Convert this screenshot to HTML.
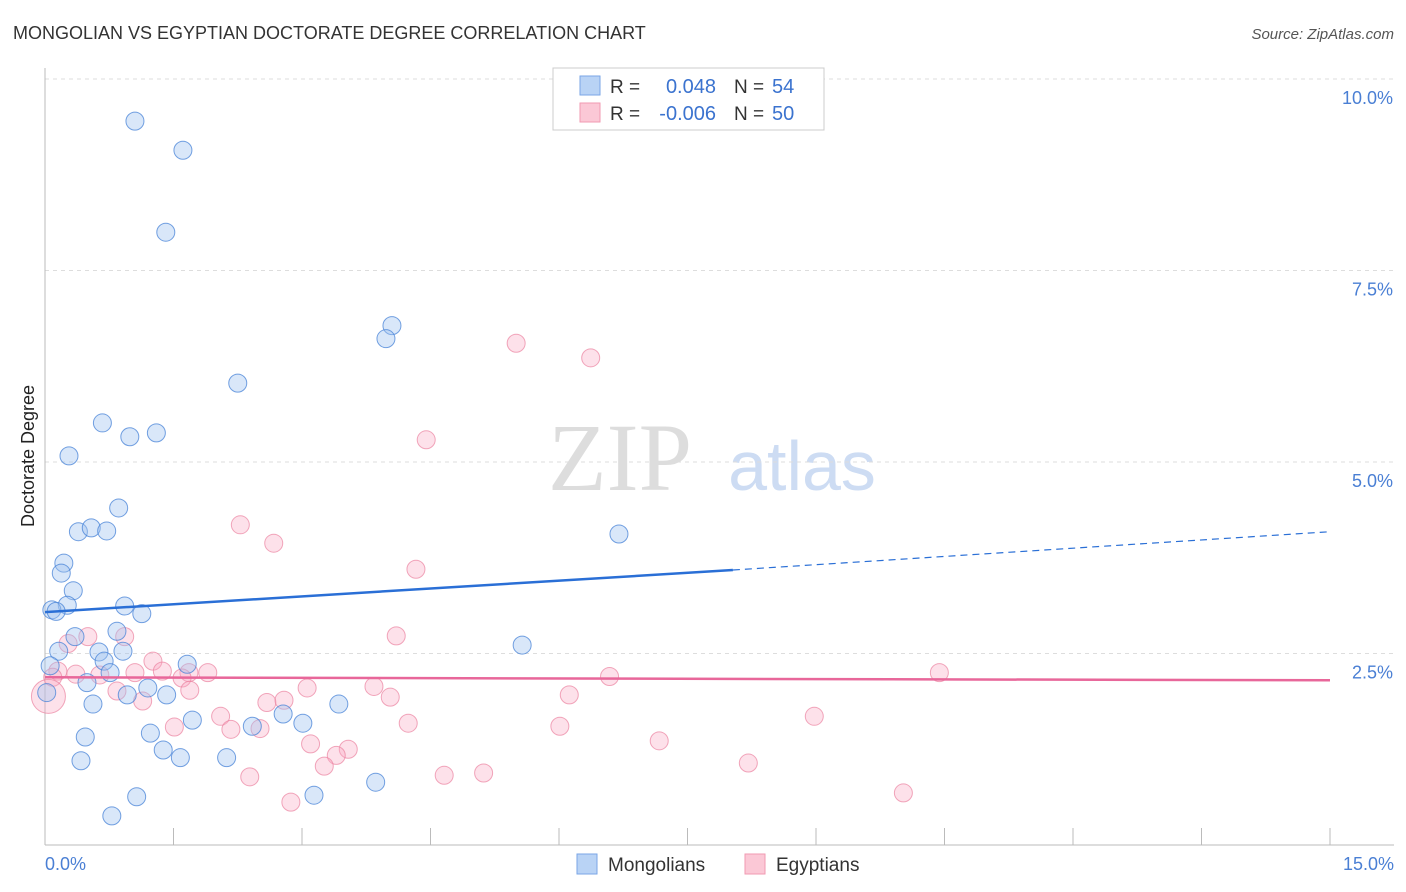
<!DOCTYPE html>
<html><head><meta charset="utf-8"><style>
body{margin:0;background:#fff;font-family:"Liberation Sans",sans-serif;}
svg{display:block}
</style></head><body>
<svg id="chart" width="1406" height="892">
<text x="13" y="39" font-size="18" fill="#333">MONGOLIAN VS EGYPTIAN DOCTORATE DEGREE CORRELATION CHART</text>
<text x="1394" y="39" font-size="15" fill="#555" font-style="italic" text-anchor="end">Source: ZipAtlas.com</text>
<text x="620" y="490" font-size="96" fill="#ddd" font-family="Liberation Serif,serif" text-anchor="middle">ZIP</text>
<text x="802" y="490" font-size="70" fill="#cddcf3" text-anchor="middle">atlas</text>
<g id="grid"></g>
<line x1="45" y1="68" x2="45" y2="845" stroke="#bbb"/>
<line x1="45" y1="845" x2="1394" y2="845" stroke="#bbb"/>
<g id="ticks"></g>
<text x="45" y="870" font-size="18" fill="#4a7fd4">0.0%</text>
<text x="1394" y="870" font-size="18" fill="#4a7fd4" text-anchor="end">15.0%</text>
<text transform="translate(34,456) rotate(-90)" font-size="18" fill="#222" text-anchor="middle">Doctorate Degree</text>
<g id="pts"></g>
<g id="trend"></g>
<g>
<rect x="553" y="68" width="271" height="62" fill="#fff" stroke="#ccc"/>
<rect x="580" y="76" width="20" height="19" fill="#b9d3f5" stroke="#7aa6e6"/>
<rect x="580" y="103" width="20" height="19" fill="#fbc8d6" stroke="#f09ab2"/>
<text x="610" y="93" font-size="19" fill="#333">R =</text><text x="716" y="93" font-size="20" fill="#3b73cf" text-anchor="end">0.048</text>
<text x="734" y="93" font-size="19" fill="#333">N =</text><text x="772" y="93" font-size="20" fill="#3b73cf">54</text>
<text x="610" y="120" font-size="19" fill="#333">R =</text><text x="716" y="120" font-size="20" fill="#3b73cf" text-anchor="end">-0.006</text>
<text x="734" y="120" font-size="19" fill="#333">N =</text><text x="772" y="120" font-size="20" fill="#3b73cf">50</text>
</g>
<g>
<rect x="577" y="854" width="20" height="20" fill="#b9d3f5" stroke="#7aa6e6"/>
<text x="608" y="871" font-size="19" fill="#333">Mongolians</text>
<rect x="745" y="854" width="20" height="20" fill="#fbc8d6" stroke="#f09ab2"/>
<text x="776" y="871" font-size="19" fill="#333">Egyptians</text>
</g>
</svg>
<script>
const yTicks=[2.5,5.0,7.5,10.0];
const yTickLabels=["2.5%","5.0%","7.5%","10.0%"];
const xTicks=[0,1.5,3,4.5,6,7.5,9,10.5,12,13.5,15];
const mongX=[1.05,1.61,1.41,4.05,3.98,2.25,0.67,0.99,1.30,0.28,0.86,0.39,0.54,0.72,0.22,0.19,0.33,0.26,0.08,0.13,0.93,1.13,6.70,0.84,0.35,0.16,0.63,0.91,0.69,1.66,0.76,0.06,0.49,1.20,0.96,1.42,0.56,0.02,1.72,2.42,2.78,3.01,3.43,1.23,0.47,1.38,1.58,2.12,0.42,3.86,3.14,1.07,0.78,5.57];
const mongY=[9.45,9.07,8.00,6.78,6.61,6.03,5.51,5.33,5.38,5.08,4.40,4.09,4.14,4.10,3.68,3.55,3.32,3.13,3.07,3.05,3.12,3.02,4.06,2.79,2.72,2.53,2.52,2.53,2.40,2.36,2.25,2.34,2.12,2.05,1.96,1.96,1.84,1.99,1.63,1.55,1.71,1.59,1.84,1.46,1.41,1.24,1.14,1.14,1.10,0.82,0.65,0.63,0.38,2.61];
const egX=[5.50,6.37,4.45,2.28,2.67,4.33,4.10,0.93,0.50,0.27,1.26,1.68,1.90,1.37,0.64,0.36,0.15,0.09,1.60,1.05,0.84,1.69,1.14,3.06,2.59,2.79,3.84,4.03,6.12,6.59,10.44,2.05,1.51,2.17,2.51,4.24,6.01,8.98,3.10,3.54,3.40,3.26,7.17,8.21,2.39,4.66,5.12,2.87,10.02,0.04];
const egY=[6.55,6.36,5.29,4.18,3.94,3.60,2.73,2.72,2.72,2.63,2.40,2.25,2.25,2.27,2.22,2.23,2.27,2.19,2.18,2.25,2.01,2.02,1.88,2.05,1.86,1.89,2.07,1.93,1.96,2.20,2.25,1.68,1.54,1.51,1.52,1.59,1.55,1.68,1.32,1.25,1.17,1.03,1.36,1.07,0.89,0.91,0.94,0.56,0.68,1.94];
const mongTrend=[3.04,3.59,4.09];
const egTrend=[2.19,2.15];
const X0=45,X1=1330,Y0=845,YS=76.6;
const xs=v=>X0+v*(X1-X0)/15, ys=v=>Y0-v*YS;
const NS="http://www.w3.org/2000/svg";
function mk(p,t,a){const e=document.createElementNS(NS,t);for(const k in a)e.setAttribute(k,a[k]);p.appendChild(e);return e;}
const grid=document.getElementById('grid');
yTicks.forEach((v,i)=>{
 const l=mk(grid,'line',{x1:45,x2:1394,y1:ys(v),y2:ys(v),stroke:'#ddd','stroke-dasharray':'4,4'});
 
 
 const t=mk(grid,'text',{x:1393,y:ys(v)+25,'font-size':18,fill:'#4a7fd4','text-anchor':'end'});
 t.textContent=yTickLabels[i];
 
 
});
const tk=document.getElementById('ticks');
xTicks.forEach(v=>{
 const l=mk(tk,'line',{x1:xs(v),x2:xs(v),y1:828,y2:845,stroke:'#bbb'});
 
 
});
const pts=document.getElementById('pts');
function dot(x,y,r,fill,stroke,name){
 const c=mk(pts,'circle',{cx:xs(x),cy:ys(y),r:r,fill:fill,stroke:stroke,'stroke-width':1});
 
 
}
egX.forEach((x,i)=>dot(x,egY[i],i==egX.length-1?17:9,'rgba(248,170,195,0.35)','rgba(235,130,160,0.7)','egyptian-point'));
mongX.forEach((x,i)=>dot(x,mongY[i],9,'rgba(160,195,240,0.4)','rgba(70,130,215,0.75)','mongolian-point'));
const tr=document.getElementById('trend');
let a=mk(tr,'line',{x1:xs(0),y1:ys(mongTrend[0]),x2:xs(8.03),y2:ys(mongTrend[1]),stroke:'#2a6fd6','stroke-width':2.5});


a=mk(tr,'line',{x1:xs(8.03),y1:ys(mongTrend[1]),x2:xs(15),y2:ys(mongTrend[2]),stroke:'#2a6fd6','stroke-width':1.2,'stroke-dasharray':'7,5'});


a=mk(tr,'line',{x1:xs(0),y1:ys(egTrend[0]),x2:xs(15),y2:ys(egTrend[1]),stroke:'#e8679a','stroke-width':2.5});


</script>
</body></html>
